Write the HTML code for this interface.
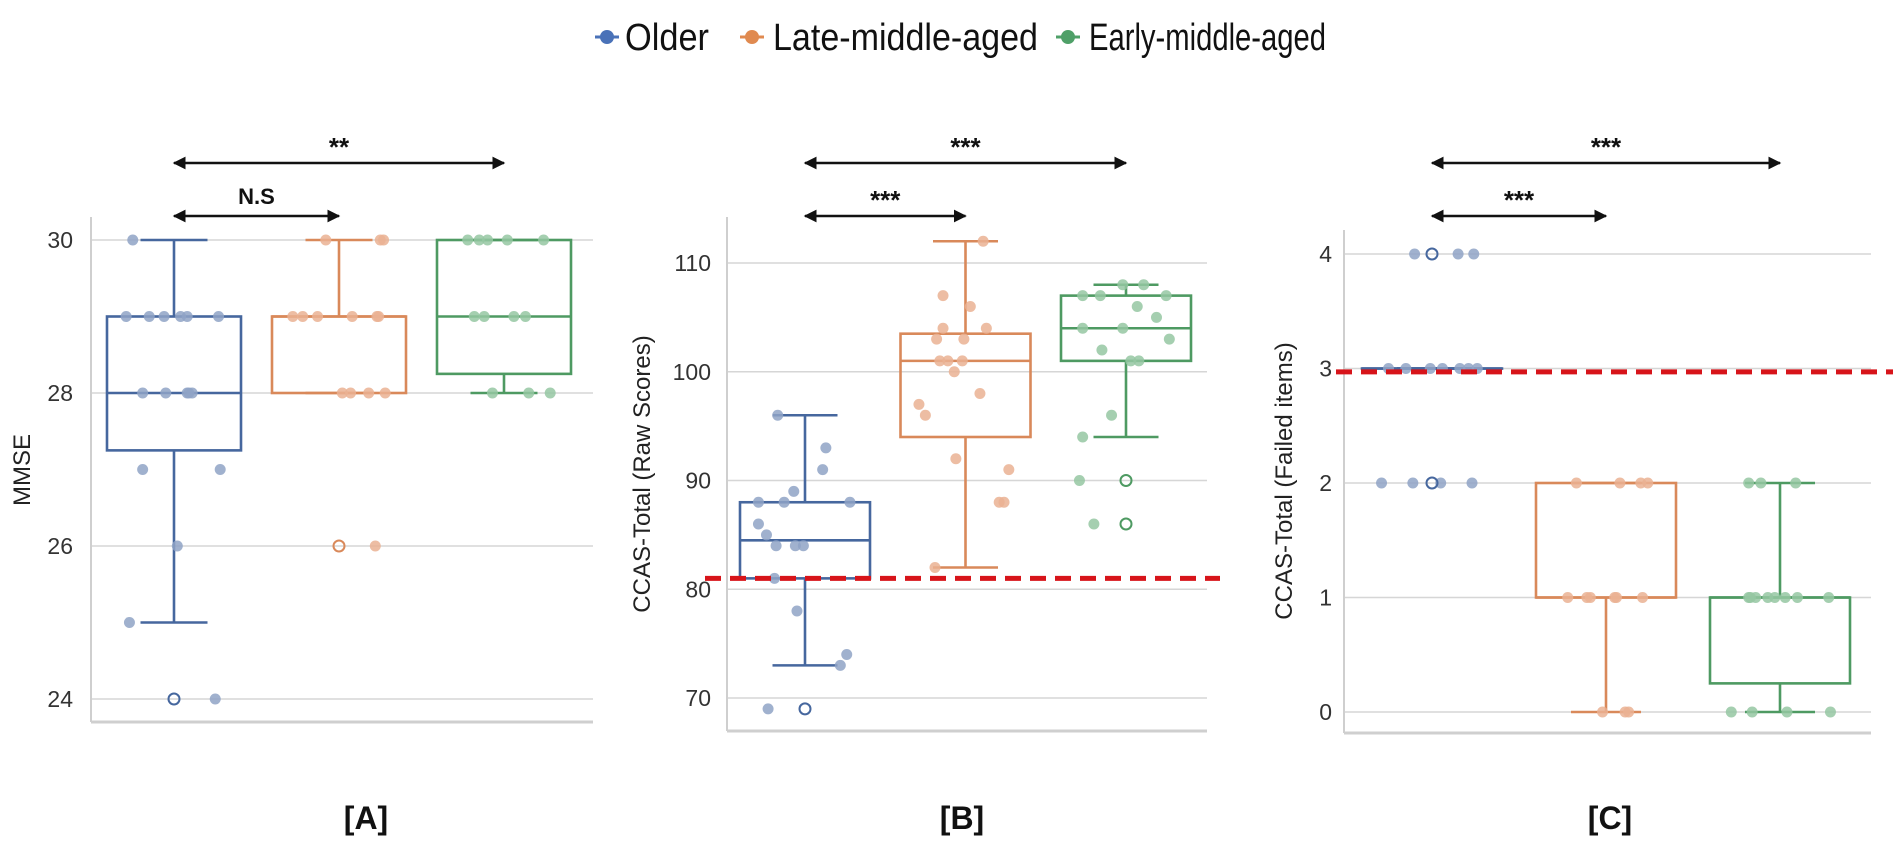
<!DOCTYPE html>
<html><head><meta charset="utf-8"><style>
html,body{margin:0;padding:0;background:#fff;}
svg{display:block;font-family:"Liberation Sans",sans-serif;}
</style></head><body>
<svg id="chart" width="1902" height="848" viewBox="0 0 1902 848">
<defs>
<marker id="ah" viewBox="0 0 10 10" refX="9" refY="5" markerWidth="5" markerHeight="5" orient="auto-start-reverse"><path d="M0,0 L10,5 L0,10 z" fill="#111"/></marker>
</defs>
<g id="legend" font-family="'Liberation Sans',sans-serif" font-size="38">
  <g>
    <line x1="595" y1="37" x2="619" y2="37" stroke="#4a72b8" stroke-width="3"/><circle cx="607" cy="37" r="7" fill="#4a72b8"/>
    <text x="625" y="50" fill="#111" textLength="84" lengthAdjust="spacingAndGlyphs">Older</text></g>
  <g>
    <line x1="740" y1="37" x2="764" y2="37" stroke="#e08a50" stroke-width="3"/><circle cx="752" cy="37" r="7" fill="#e08a50"/>
    <text x="773" y="50" fill="#111" textLength="265" lengthAdjust="spacingAndGlyphs">Late-middle-aged</text></g>
  <g>
    <line x1="1056" y1="37" x2="1080" y2="37" stroke="#4fa068" stroke-width="3"/><circle cx="1068" cy="37" r="7" fill="#4fa068"/>
    <text x="1089" y="50" fill="#111" textLength="237" lengthAdjust="spacingAndGlyphs">Early-middle-aged</text></g>
</g>
</svg>
<script>
// ---- Panel A: MMSE ----
const A_ticks = [24, 26, 28, 30];
const A_lo = [25, 28, 28];
const A_q1 = [27.25, 28, 28.25];
const A_med = [28, 29, 29];
const A_q3 = [29, 29, 30];
const A_hi = [30, 30, 30];
const A_older_vals = [30,29,29,29,29,29,29,28,28,28,28,28,27,27,26,25,24];
const A_older_jit = [-.25,-.29,-.15,-.06,.04,.08,.27,-.19,-.05,.08,.09,.11,-.19,.28,.02,-.27,.25];
const A_late_vals = [30,30,30,29,29,29,29,29,29,28,28,28,28,26];
const A_late_jit = [-.08,.25,.27,-.28,-.22,-.13,.08,.23,.24,.02,.07,.18,.28,.22];
const A_early_vals = [30,30,30,30,30,29,29,29,29,28,28,28];
const A_early_jit = [-.22,-.15,-.10,.02,.24,-.18,-.12,.06,.13,-.07,.15,.28];
const A_fliers = [[24], [26], []];
// ---- Panel B: CCAS raw ----
const B_ticks = [70, 80, 90, 100, 110];
const B_lo = [73, 82, 94];
const B_q1 = [81, 94, 101];
const B_med = [84.5, 101, 104];
const B_q3 = [88, 103.5, 107];
const B_hi = [96, 112, 108];
const B_older_vals = [96,93,91,89,88,88,88,86,85,84,84,84,81,78,74,73,69];
const B_older_jit = [-.17,.13,.11,-.07,-.29,-.13,.28,-.29,-.24,-.18,-.06,-.01,-.19,-.05,.26,.22,-.23];
const B_late_vals = [112,107,106,104,104,103,103,101,101,101,100,98,97,96,92,91,88,88,82];
const B_late_jit = [.11,-.14,.03,-.14,.13,-.18,-.01,-.16,-.11,-.02,-.07,.09,-.29,-.25,-.06,.27,.21,.24,-.19];
const B_early_vals = [108,108,107,107,107,106,105,104,104,103,102,101,101,96,94,90,86];
const B_early_jit = [-.02,.11,-.27,-.16,.25,.07,.19,-.27,-.02,.27,-.15,.03,.08,-.09,-.27,-.29,-.2];
const B_fliers = [[69], [], [90, 86]];
const B_cutoff = 81;
// ---- Panel C: CCAS failed items ----
const C_ticks = [0, 1, 2, 3, 4];
const C_lo = [3, 0, 0];
const C_q1 = [3, 1, 0.25];
const C_med = [3, 1, 1];
const C_q3 = [3, 2, 1];
const C_hi = [3, 2, 2];
const C_older_vals = [4,4,4,3,3,3,3,3,3,3,2,2,2,2];
const C_older_jit = [-.1,.15,.24,-.25,-.15,-.01,.06,.16,.21,.26,-.29,-.11,.05,.23];
const C_late_vals = [2,2,2,2,1,1,1,1,1,1,0,0,0];
const C_late_jit = [-.17,.08,.2,.24,-.22,-.11,-.09,.05,.06,.21,-.02,.11,.13];
const C_early_vals = [2,2,2,1,1,1,1,1,1,1,1,0,0,0,0];
const C_early_jit = [-.18,-.11,.09,-.18,-.17,-.14,-.07,-.03,.03,.1,.28,-.28,-.16,.04,.29];
const C_fliers = [[4, 2], [], []];
const C_cutoff = 2.97;

const groupNames = ['older', 'late-middle-aged', 'early-middle-aged'];
const boxColors = ['#46679e', '#d9895a', '#4e9a62'];
const dotColors = ['#8fa3c6', '#eab293', '#95c7a2'];

const NS = 'http://www.w3.org/2000/svg';
const svg = document.getElementById('chart');
function mk(tag, attrs, parent) {
  const e = document.createElementNS(NS, tag);
  for (const k in attrs) e.setAttribute(k, attrs[k]);
  (parent || svg).appendChild(e);
  return e;
}

function panel(cfg) {
  const g = mk('g', {});
  
  
  const y = v => cfg.y0 + (cfg.v0 - v) * cfg.ppu;
  const x = i => cfg.xc0 + cfg.sp * i;
  cfg.ticks.forEach(t => {
    const l = mk('line', {x1: cfg.ax, x2: cfg.gx2, y1: y(t), y2: y(t), stroke: '#d6d6d6', 'stroke-width': 1.6}, g);
    
    
    const tx = mk('text', {x: cfg.ax - 8 - cfg.tickPad, y: y(t) + 8, 'text-anchor': 'end', 'font-size': 23, fill: '#333'}, g);
    tx.textContent = t;
    
    
  });
  const ya = mk('line', {x1: cfg.ax, x2: cfg.ax, y1: cfg.top, y2: cfg.bottom, stroke: '#cfcfcf', 'stroke-width': 2}, g);
  
  
  const xa = mk('line', {x1: cfg.ax, x2: cfg.gx2, y1: cfg.bottom, y2: cfg.bottom, stroke: '#cfcfcf', 'stroke-width': 3}, g);
  
  
  const yt = mk('text', {x: cfg.ytx, y: cfg.yty, 'text-anchor': 'middle', 'font-size': 24, fill: '#222', transform: 'rotate(-90 ' + cfg.ytx + ' ' + cfg.yty + ')'}, g);
  yt.textContent = cfg.ytitle;
  
  
  for (let i = 0; i < 3; i++) {
    const bg = mk('g', {}, g);
    
    
    const c = x(i), hw = cfg.bw / 2, col = boxColors[i];
    const st = {stroke: col, 'stroke-width': 2.6, fill: 'none'};
    mk('line', Object.assign({x1: c, x2: c, y1: y(cfg.hi[i]), y2: y(cfg.q3[i])}, st), bg);
    mk('line', Object.assign({x1: c, x2: c, y1: y(cfg.q1[i]), y2: y(cfg.lo[i])}, st), bg);
    mk('line', Object.assign({x1: c - hw / 2, x2: c + hw / 2, y1: y(cfg.hi[i]), y2: y(cfg.hi[i])}, st), bg);
    mk('line', Object.assign({x1: c - hw / 2, x2: c + hw / 2, y1: y(cfg.lo[i]), y2: y(cfg.lo[i])}, st), bg);
    mk('rect', Object.assign({x: c - hw, y: y(cfg.q3[i]), width: cfg.bw, height: Math.max(0.1, y(cfg.q1[i]) - y(cfg.q3[i]))}, st), bg);
    mk('line', Object.assign({x1: c - hw, x2: c + hw, y1: y(cfg.med[i]), y2: y(cfg.med[i])}, st), bg);
    const vals = cfg.vals[i], jit = cfg.jit[i];
    vals.forEach((v, k) => {
      const p = mk('circle', {cx: c + jit[k] * cfg.sp, cy: y(v), r: 5.5, fill: dotColors[i], 'fill-opacity': 0.85}, g);
      
      
    });
    cfg.fliers[i].forEach(v => {
      const f = mk('circle', {cx: c, cy: y(v), r: 5.5, fill: 'none', stroke: col, 'stroke-width': 2}, g);
      
      
    });
  }
  if (cfg.cutoff !== undefined) {
    const r = mk('line', {x1: cfg.cx1, x2: cfg.cx2, y1: y(cfg.cutoff), y2: y(cfg.cutoff), stroke: '#d7141a', 'stroke-width': 5, 'stroke-dasharray': '16 9'}, g);
    
    
  }
  cfg.sig.forEach((s, k) => {
    const ay = k === 0 ? 163 : 216;
    const a = mk('line', {x1: x(0), x2: x(s.to), y1: ay, y2: ay, stroke: '#111', 'stroke-width': 2.6, 'marker-start': 'url(#ah)', 'marker-end': 'url(#ah)'}, g);
    
    
    const t = mk('text', {x: (x(0) + x(s.to)) / 2, y: ay - (s.label === 'N.S' ? 12 : 7), 'text-anchor': 'middle', 'font-size': s.label === 'N.S' ? 22 : 26, 'font-weight': 'bold', fill: '#111'}, g);
    t.textContent = s.label;
    
    
  });
  const pl = mk('text', {x: cfg.plx, y: 829, 'text-anchor': 'middle', 'font-size': 32, 'font-weight': 'bold', fill: '#111'}, g);
  pl.textContent = '[' + cfg.id + ']';
  
  
}

panel({id: 'A', ticks: A_ticks, v0: 30, y0: 240, ppu: 76.5, xc0: 174, sp: 165, bw: 134,
  ax: 91, gx2: 593, top: 217, bottom: 722, tickPad: 10, ytx: 30, yty: 470, ytitle: 'MMSE',
  lo: A_lo, q1: A_q1, med: A_med, q3: A_q3, hi: A_hi,
  vals: [A_older_vals, A_late_vals, A_early_vals], jit: [A_older_jit, A_late_jit, A_early_jit], fliers: A_fliers,
  sig: [{to: 2, label: '**'}, {to: 1, label: 'N.S'}], plx: 366});
panel({id: 'B', ticks: B_ticks, v0: 110, y0: 263, ppu: 10.875, xc0: 805, sp: 160.5, bw: 130,
  ax: 727, gx2: 1207, top: 217, bottom: 731, tickPad: 8, ytx: 650, yty: 474, ytitle: 'CCAS-Total (Raw Scores)',
  lo: B_lo, q1: B_q1, med: B_med, q3: B_q3, hi: B_hi,
  vals: [B_older_vals, B_late_vals, B_early_vals], jit: [B_older_jit, B_late_jit, B_early_jit], fliers: B_fliers,
  cutoff: B_cutoff, cx1: 705, cx2: 1220,
  sig: [{to: 2, label: '***'}, {to: 1, label: '***'}], plx: 962});
panel({id: 'C', ticks: C_ticks, v0: 4, y0: 254, ppu: 114.5, xc0: 1432, sp: 174, bw: 140,
  ax: 1344, gx2: 1871, top: 230, bottom: 733, tickPad: 4, ytx: 1292, yty: 481, ytitle: 'CCAS-Total (Failed items)',
  lo: C_lo, q1: C_q1, med: C_med, q3: C_q3, hi: C_hi,
  vals: [C_older_vals, C_late_vals, C_early_vals], jit: [C_older_jit, C_late_jit, C_early_jit], fliers: C_fliers,
  cutoff: C_cutoff, cx1: 1336, cx2: 1893,
  sig: [{to: 2, label: '***'}, {to: 1, label: '***'}], plx: 1610});
</script>
</body></html>
